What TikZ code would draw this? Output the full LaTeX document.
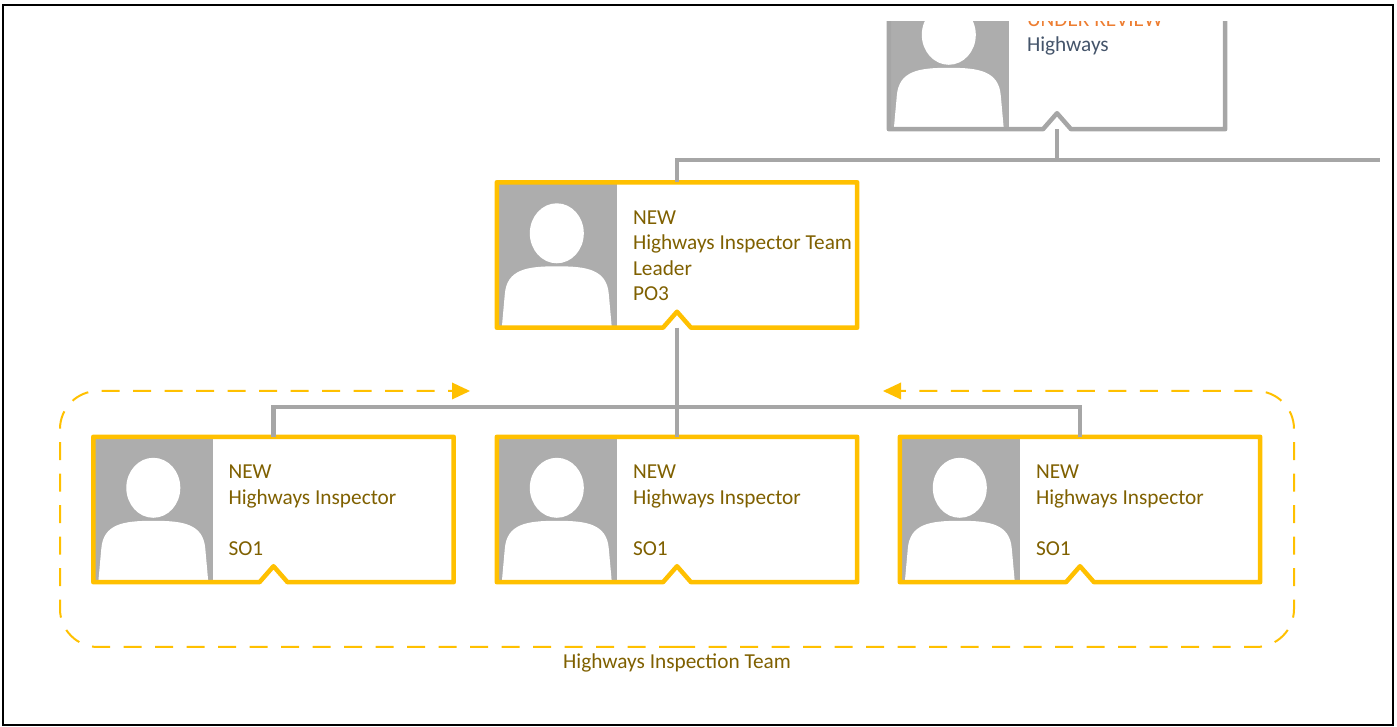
\documentclass[tikz,border=0pt]{standalone}
\usepackage{fontspec}
\setmainfont{Carlito}
\usetikzlibrary{calc,arrows.meta}
\definecolor{gold}{HTML}{FFC000}
\definecolor{textc}{HTML}{7F6000}
\definecolor{slate}{HTML}{44546A}
\definecolor{orng}{HTML}{ED7D31}
\definecolor{gry}{HTML}{A6A6A6}
\definecolor{photoc}{HTML}{ADADAD}
\newcommand\cardart[2]{%
 \fill[photoc] (#1.north west) rectangle ($(#1.south west)+(120,0)$);
 \fill[white] ($(#1.north west)+(60,-51)$) ellipse [x radius=27, y radius=30];
 \fill[white] ($(#1.south west)+(5,0)$) -- ($(#1.north west)+(8,-112)$) .. controls ($(#1.north west)+(10,-87)$) and ($(#1.north west)+(30,-84)$) .. ($(#1.north west)+(60,-84)$) .. controls ($(#1.north west)+(90,-84)$) and ($(#1.north west)+(110,-87)$) .. ($(#1.north west)+(112,-112)$) -- ($(#1.south west)+(115,0)$) -- cycle;
 \draw[#2, line width=4.5, line join=round] (#1.north west) -- (#1.north east) -- (#1.south east) -- ($(#1.south)+(14,0)$) -- ($(#1.south)+(0,16)$) -- ($(#1.south)+(-14,0)$) -- (#1.south west) -- cycle;
}
\tikzset{
 cardbox/.style={rectangle, draw=none, inner sep=0, minimum width=360, minimum height=145},
 ctext/.style={anchor=base west, align=left, inner sep=0, text=textc, font=\fontsize{21.3}{25.5}\selectfont},
 conn/.style={draw=gry, line width=4.5},
 grp/.style={draw=gold, line width=2, dash pattern=on 18pt off 13.5pt, rounded corners=38},
 lbl/.style={text=textc, font=\fontsize{21.3}{25.5}\selectfont, inner sep=0},
}
\begin{document}
\begin{tikzpicture}[x=1pt,y=1pt]
\useasboundingbox (0,0) rectangle (1397,727);
% top (clipped) box
\begin{scope}
\clip (0,0) rectangle (1380,705);
\node[cardbox, minimum width=336] (top) at (1057,670.5) {};
\cardart{top}{gry}
\node[ctext] (ttop) at ($(top.north west)+(138,-68)$) {{\color{orng}UNDER REVIEW}\\{\color{slate}Highways}};
\coordinate (busR) at (1380,567);
\draw[conn] (top.south) -- (top.south |- busR);
\end{scope}
% middle card
\node[cardbox] (m) at (677,472) {};
\cardart{m}{gold}
\node[ctext] (tm) at ($(m.north west)+(136,-118.5)$) {NEW\\Highways Inspector Team\\Leader\\PO3};
% bottom cards
\node[cardbox] (c1) at (273.5,217.5) {};
\node[cardbox] (c2) at (677,217.5) {};
\node[cardbox] (c3) at (1080,217.5) {};
\cardart{c1}{gold}
\cardart{c2}{gold}
\cardart{c3}{gold}
\node[ctext] (t1) at ($(c1.north west)+(135,-118.5)$) {NEW\\Highways Inspector\\\\SO1};
\node[ctext] (t2) at ($(c2.north west)+(136,-118.5)$) {NEW\\Highways Inspector\\\\SO1};
\node[ctext] (t3) at ($(c3.north west)+(136,-118.5)$) {NEW\\Highways Inspector\\\\SO1};
% connectors
\draw[conn] (m.north) -- (m.north |- busR) -- (busR);
\coordinate (busB) at (677,320);
\draw[conn] (m.south) -- (c2.north);
\draw[conn] (c1.north) |- (busB) -| (c3.north);
% group outline
\coordinate (gb) at (677,80);
\coordinate (gl) at (470,336);
\coordinate (gr) at (883,336);
\draw[grp] (gb) -- (60,80) -- (60,336) -- (gl);
\draw[grp] (gb) -- (1294,80) -- (1294,336) -- (gr);
\draw[draw=none, fill=gold] (gl) -- ++(-18,8.5) -- ++(0,-17) -- cycle;
\draw[draw=none, fill=gold] (gr) -- ++(18,8.5) -- ++(0,-17) -- cycle;
\node[lbl, anchor=base] (glabel) at (677,58) {Highways Inspection Team};
% frame
\draw[black, line width=2.5] (3,722) rectangle (1393,2);
\end{tikzpicture}
\end{document}
